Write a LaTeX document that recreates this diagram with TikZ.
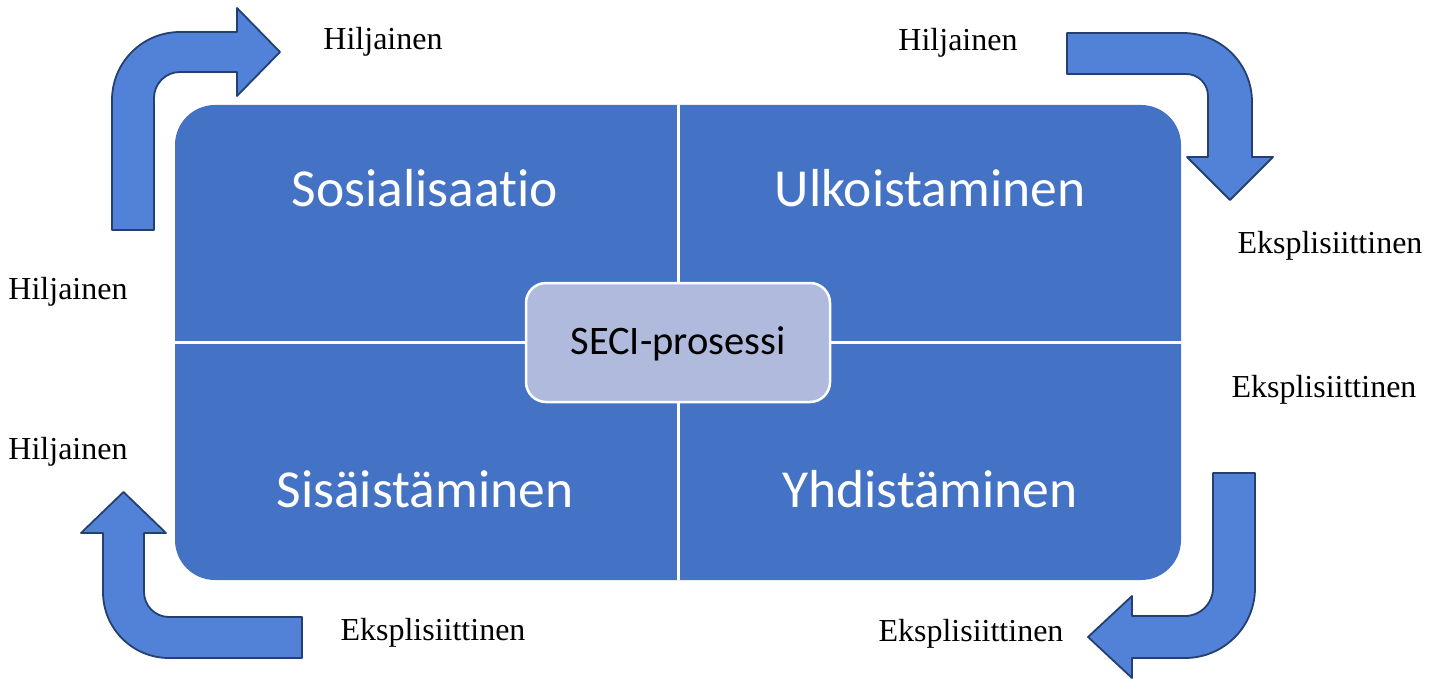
\documentclass[tikz,border=0pt]{standalone}
\usepackage{fontspec}
\setmainfont{Liberation Serif}
\newfontfamily\calib[Ligatures={NoCommon}]{Carlito}
\definecolor{quadblue}{HTML}{4472C4}
\definecolor{centerfill}{HTML}{AFBADC}
\definecolor{arrowfill}{HTML}{5282D8}
\definecolor{arrowedge}{HTML}{23406E}
\tikzset{
  bentarrow/.style={fill=arrowfill, draw=arrowedge, line width=1.8pt, line join=round},
  quadlabel/.style={anchor=base, text=white, font=\calib\fontsize{53.5}{60}\selectfont, inner sep=0pt},
  sidelabel/.style={anchor=base, text=black, font=\fontsize{32}{38}\selectfont, inner sep=0pt},
  hub/.style={fill=centerfill, draw=white, line width=2.5pt, rounded corners=20pt}
}
\begin{document}
\begin{tikzpicture}[x=1pt, y=-1pt]
\path[use as bounding box] (0,0) rectangle (1438,679);

% matrix block with white dividers
\fill[quadblue, rounded corners=40pt] (175,105) rectangle (1181,580);
\draw[white, line width=3pt] (678,105) -- (678,580);
\draw[white, line width=3pt] (175,342) -- (1181,342);

% centre box
\draw[hub] (526,283) rectangle (830,402);
\node[anchor=base, font=\calib\fontsize{40.5}{46}\selectfont, inner sep=0pt] (seci) at (678,354) {SECI-prosessi};

% quadrant titles
\node[quadlabel] (sos) at (425,207) {Sosialisaatio};
\node[quadlabel] (ulk) at (930,207) {Ulkoistaminen};
\node[quadlabel] (sis) at (425,507) {Sisäistäminen};
\node[quadlabel] (yhd) at (930,507) {Yhdistäminen};

% bent arrows
\draw[bentarrow] (112,230) -- (112,100) .. controls (112,62.4) and (142.4,32) .. (180,32)
  -- (237,32) -- (237,8) -- (280,52) -- (237,96) -- (237,72) -- (180,72)
  .. controls (165.6,72) and (154,83.6) .. (154,98) -- (154,230) -- cycle;

\draw[bentarrow] (1067,33) -- (1183,33) .. controls (1221.1,33) and (1252,63.9) .. (1252,102)
  -- (1252,157) -- (1273,157) -- (1230,200) -- (1187,157) -- (1208,157) -- (1208,96)
  .. controls (1208,83.8) and (1198.2,74) .. (1186,74) -- (1067,74) -- cycle;

\draw[bentarrow] (302,617) -- (169,617) .. controls (155.2,617) and (144,605.8) .. (144,592)
  -- (144,533) -- (166,533) -- (123.5,492) -- (81,533) -- (103,533) -- (103,592)
  .. controls (103,628.5) and (132.5,658) .. (169,658) -- (302,658) -- cycle;

\draw[bentarrow] (1213,473) -- (1255,473) -- (1255,588) .. controls (1255,626.7) and (1223.7,658) .. (1185,658)
  -- (1132,658) -- (1132,678) -- (1088,637) -- (1132,596) -- (1132,616) -- (1185,616)
  .. controls (1200.5,616) and (1213,603.5) .. (1213,588) -- cycle;

% side labels
\node[sidelabel] (h1) at (383,50) {Hiljainen};
\node[sidelabel] (h2) at (958,51) {Hiljainen};
\node[sidelabel] (e1) at (1330,254) {Eksplisiittinen};
\node[sidelabel] (h3) at (68,299) {Hiljainen};
\node[sidelabel] (e2) at (1324,397) {Eksplisiittinen};
\node[sidelabel] (h4) at (68,459) {Hiljainen};
\node[sidelabel] (e3) at (433,640) {Eksplisiittinen};
\node[sidelabel] (e4) at (971,641) {Eksplisiittinen};
\end{tikzpicture}
\end{document}
